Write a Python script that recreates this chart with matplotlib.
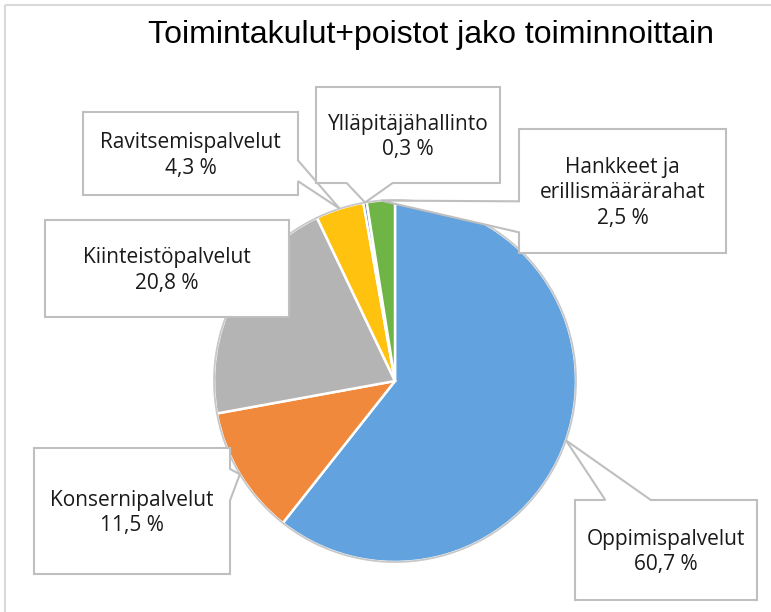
import numpy as np
import matplotlib.pyplot as plt
from matplotlib.patches import Polygon, Rectangle, Circle

title = 'Toimintakulut+poistot jako toiminnoittain'
categories = ['Oppimispalvelut', 'Konsernipalvelut', 'Kiinteistöpalvelut',
              'Ravitsemispalvelut', 'Ylläpitäjähallinto',
              'Hankkeet ja\nerillismäärärahat']
shares = [60.7, 11.5, 20.8, 4.3, 0.3, 2.5]
colors = ['#62A2DE', '#F0893B', '#B4B4B4', '#FFC20F', '#3F6FC0', '#6FB446']

# label boxes in pixel coords (left, top, right, bottom)
boxes = [(575, 500, 757, 600), (34, 448, 230, 574), (45, 220, 289, 317),
         (83, 112, 298, 195), (316, 87, 500, 183), (519, 129, 726, 253)]


def callout(box, tip):
    # rectangle with a wedge tail, roughly like Excel's data callout
    l, t, r, b = box
    w, h = r - l, b - t
    dx = (tip[0] - (l + r) / 2) / w
    dy = (tip[1] - (t + b) / 2) / h
    if l <= tip[0] <= r and t <= tip[1] <= b:
        return [(l, t), (r, t), (r, b), (l, b)]
    if abs(dx) >= abs(dy):
        f = (2 / 12, 5 / 12) if dy < 0 else (7 / 12, 10 / 12)
        y1, y2 = t + f[0] * h, t + f[1] * h
        if dx > 0:
            return [(l, t), (r, t), (r, y1), tip, (r, y2), (r, b), (l, b)]
        return [(l, t), (r, t), (r, b), (l, b), (l, y2), tip, (l, y1)]
    f = (2 / 12, 5 / 12) if dx < 0 else (7 / 12, 10 / 12)
    x1, x2 = l + f[0] * w, l + f[1] * w
    if dy < 0:
        return [(l, t), (x1, t), tip, (x2, t), (r, t), (r, b), (l, b)]
    return [(l, t), (r, t), (r, b), (x2, b), tip, (x1, b), (l, b)]


fig = plt.figure(figsize=(7.71, 6.12), dpi=100)
ax = fig.add_axes([0, 0, 1, 1])

# chart area border (only top/left visible in the crop)
ax.add_patch(Rectangle((5, 5), 800, 700, fill=False, ec='#D9D9D9', lw=1.5))

ax.text(431, 43, title, ha='center', va='baseline', fontsize=23,
        family='Liberation Sans', color='black')

center = (395, 381)
radius = 181
# y axis is flipped below, so start at -90 and go "counterclock" = clockwise on screen
wedges, _ = ax.pie(shares, colors=colors, startangle=-90, counterclock=True,
                   center=center, radius=radius, frame=True,
                   wedgeprops=dict(edgecolor='white', linewidth=1.8))
ax.set_xlim(0, 771)
ax.set_ylim(612, 0)  # pixel coords, y down
ax.axis('off')
ax.add_patch(Circle(center, radius, fill=False, ec='#C8C8C8', lw=1.3, zorder=3))

for wd, name, val, box in zip(wedges, categories, shares, boxes):
    mid = np.deg2rad((wd.theta1 + wd.theta2) / 2)
    tip = (center[0] + radius * np.cos(mid), center[1] + radius * np.sin(mid))
    ax.add_patch(Polygon(callout(box, tip), closed=True, fc='white',
                         ec='#BFBFBF', lw=1.5, zorder=5))
    txt = name + '\n' + ('%.1f %%' % val).replace('.', ',')
    ax.text((box[0] + box[2]) / 2, (box[1] + box[3]) / 2 + 2, txt,
            ha='center', va='center', fontsize=15, family='Open Sans',
            linespacing=1.3, color='#1A1A1A', zorder=6)

fig.savefig('out.png', dpi=100)
